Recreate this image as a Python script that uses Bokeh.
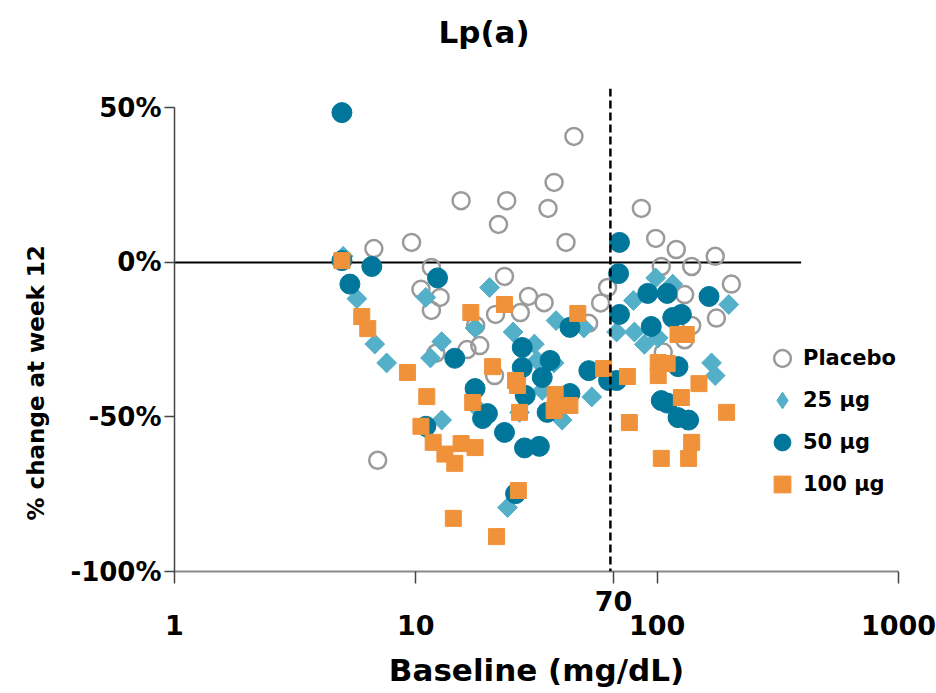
from bokeh.plotting import figure
from bokeh.models import Range1d, FixedTicker, Span, Title, Legend, LegendItem
from bokeh.embed import file_html
from bokeh.resources import INLINE

# ---------------- data ----------------
title_text = "Lp(a)"
x_label = "Baseline (mg/dL)"
y_label = "% change at week 12"
series_names = ["Placebo", "25 µg", "50 µg", "100 µg"]

x_ticks = [1, 10, 100, 1000]
x_tick_labels = ["1", "10", "100", "1000"]
y_ticks = [-100, -50, 0, 50]
y_tick_labels = ["-100%", "-50%", "0%", "50%"]
threshold_label = "70"
threshold_line_x = 64      # where the dashed line is drawn
threshold_label_x = 66     # where the "70" text sits
zero_line_end = 395

placebo_x = [6.95, 6.7, 9.6, 11.6, 10.5, 12.6, 11.6, 15.4, 12.1, 16.3, 18.4, 17.7, 21.4, 23.3, 22.0,
             23.8, 27.1, 29.3, 34.0, 35.3, 37.4, 41.9, 45.2, 21.2, 52.0, 58.3, 62.3, 86.0, 98.6, 104,
             120, 130, 139, 174, 203, 176, 139, 106, 130]
placebo_y = [-64, 4.5, 6.5, -1.6, -8.7, -11.3, -15.5, 20, -29.4, -28.2, -26.9, -20.4, -16.8, -4.5, 12.3,
             20, -16.2, -11, -13, 17.5, 25.9, 6.5, 40.8, -36.6, -19.7, -13.1, -8.1, 17.5, 7.8, -1.3,
             4.2, -10.4, -1.3, 2.0, -7, -18, -20.4, -29, -25]

d25_x = [5.0, 5.7, 6.76, 7.57, 11.5, 12.8, 11.0, 12.8, 10.9, 17.6, 20.2, 25.3, 31.0, 38.1, 49.7,
         37.4, 33.4, 26.9, 40.4, 53.6, 18.4, 24.0, 67.9, 79.7, 80.5, 88.5, 98.6, 116, 168, 174,
         198, 31.8, 101]
d25_y = [2, -11.7, -26.4, -32.5, -30.9, -25.6, -11.3, -51, -53.5, -21.2, -8.1, -22.5, -26.4, -18.8, -21.2,
         -32.5, -41.4, -48.5, -51, -43.5, -47.9, -79.3, -22.5, -12.3, -22.5, -26.5, -5, -7, -32.5, -36.6,
         -13.6, -31.7, -24.4]

d50_x = [4.94, 4.94, 6.57, 5.33, 12.3, 11.0, 14.5, 17.6, 18.9, 19.8, 23.3, 25.9, 27.6, 27.6, 28.2,
         28.4, 32.5, 33.4, 35.0, 36.0, 43.5, 43.5, 52.1, 62.9, 67.9, 69.8, 69.2, 69.8, 91.4, 94.5,
         110, 116, 126, 164, 104, 110, 122, 135, 122]
d50_y = [48.5, 0.6, -1.3, -7, -5, -53, -31, -40.8, -50.5, -48.9, -55, -74.8, -27.5, -34, -60,
         -43, -59.5, -37.2, -48.5, -31.7, -42.4, -21, -35, -38.2, -38.2, 6.5, -3.6, -16.8, -10, -20.7,
         -10, -17.8, -16.8, -11, -44.7, -45.5, -50.2, -51, -33.7]

d100_x = [4.94, 5.97, 6.32, 9.23, 11.1, 10.5, 11.8, 13.2, 14.5, 15.4, 17.6, 14.3, 17.2, 16.9, 23.3,
          46.9, 20.8, 25.9, 26.4, 26.9, 37.8, 43.5, 37.4, 60.0, 75.3, 101, 110, 101, 122, 132,
          149, 126, 194, 76.7, 139, 104, 135, 26.6, 21.6]
d100_y = [0.6, -17.5, -21.4, -35.6, -43.4, -53, -58.2, -62, -65, -58.6, -59.9, -82.8, -45.3, -16.2, -13.6,
          -16.5, -33.7, -38.2, -39.8, -48.5, -42.7, -46.3, -47.9, -34.3, -36.9, -32.4, -32.7, -36.6, -23.3, -23.3,
          -39.2, -43.7, -48.5, -51.8, -58.2, -63.4, -63.4, -73.8, -88.7]

# ---------------- style ----------------
FONT = "DejaVu Sans"
C_PLACEBO = "#9a9a9a"
C_25 = "#54AFC9"
C_50 = "#00779A"
C_100 = "#F0923A"

p = figure(width=936, height=693, x_axis_type="log",
           x_range=Range1d(1, 1000), y_range=Range1d(-100, 56.3),
           output_backend="svg", toolbar_location=None,
           min_border_left=174, min_border_right=38, min_border_top=88, min_border_bottom=122)
p.outline_line_color = None
p.xgrid.visible = False
p.ygrid.visible = False
p.background_fill_color = "white"
p.border_fill_color = "white"

# title (blank second line lifts it towards the top edge like the reference)
p.title.text = title_text + "\n"
p.title.text_font = FONT
p.title.text_font_style = "bold"
p.title.text_font_size = "31px"
p.title.text_color = "black"
p.title.align = "left"
p.title.offset = 264
p.title.standoff = 6

# reference lines
p.line([x_ticks[0], zero_line_end], [0, 0], line_color="black", line_width=2)
p.add_layout(Span(location=threshold_line_x, dimension="height", line_color="black",
                  line_width=2.5, line_dash="8 4"))

# series
r_pl = p.scatter(placebo_x, placebo_y, marker="circle", size=17, fill_color=None,
                 line_color=C_PLACEBO, line_width=2.5)
# diamond layer (sits fully underneath the rotated squares; provides the legend's diamond)
r_25_key = p.scatter(d25_x, d25_y, marker="diamond", size=19, fill_color=C_25, line_color=C_25)
p.scatter(d25_x, d25_y, marker="square", size=14, angle=45, angle_units="deg",
          fill_color=C_25, line_color=C_25)
r_50 = p.scatter(d50_x, d50_y, marker="circle", size=20, fill_color=C_50, line_color=C_50)
r_100 = p.scatter(d100_x, d100_y, marker="square", size=16, fill_color=C_100, line_color=C_100)

# x axis: main ticks on the second line, "70" on the first line
xa = p.xaxis[0]
xa.ticker = FixedTicker(ticks=x_ticks + [threshold_label_x], minor_ticks=[])
overrides = {t: "\n" + s for t, s in zip(x_ticks, x_tick_labels)}
overrides[threshold_label_x] = threshold_label + "\n"
xa.major_label_overrides = overrides
xa.axis_line_color = "#8a8a8a"
xa.axis_line_width = 2
xa.major_tick_line_color = "#444444"
xa.major_tick_line_width = 1.5
xa.major_tick_in = 0
xa.major_tick_out = 12
xa.minor_tick_line_color = None
xa.major_label_standoff = 2
xa.major_label_text_font = FONT
xa.major_label_text_font_style = "bold"
xa.major_label_text_font_size = "27px"
xa.major_label_text_line_height = 0.8
xa.major_label_text_color = "black"
xa.axis_label = x_label
xa.axis_label_text_font = FONT
xa.axis_label_text_font_style = "bold"
xa.axis_label_text_font_size = "31px"
xa.axis_label_text_color = "black"
xa.axis_label_standoff = 8

ya = p.yaxis[0]
ya.ticker = FixedTicker(ticks=y_ticks, minor_ticks=[])
ya.major_label_overrides = dict(zip(y_ticks, y_tick_labels))
ya.bounds = (y_ticks[0], y_ticks[-1])
ya.axis_line_color = "#444444"
ya.axis_line_width = 1.5
ya.major_tick_line_color = "#444444"
ya.major_tick_line_width = 1.5
ya.major_tick_in = 0
ya.major_tick_out = 10
ya.minor_tick_line_color = None
ya.major_label_standoff = 3
ya.major_label_text_font = FONT
ya.major_label_text_font_style = "bold"
ya.major_label_text_font_size = "26px"
ya.major_label_text_color = "black"

# y-axis title, positioned along the side like the reference
p.add_layout(Title(text=y_label, align="left", offset=51, standoff=37,
                   text_font=FONT, text_font_style="bold", text_font_size="23px",
                   text_color="black"), "left")

# legend
lg = Legend(items=[LegendItem(label=series_names[0], renderers=[r_pl]),
                   LegendItem(label=series_names[1], renderers=[r_25_key]),
                   LegendItem(label=series_names[2], renderers=[r_50]),
                   LegendItem(label=series_names[3], renderers=[r_100])])
lg.location = (587, 66)
lg.background_fill_alpha = 0
lg.border_line_color = None
lg.label_text_font = FONT
lg.label_text_font_style = "bold"
lg.label_text_font_size = "21px"
lg.label_text_color = "black"
lg.label_height = 30
lg.glyph_height = 42
lg.glyph_width = 42
lg.spacing = 0
lg.padding = 5
lg.margin = 0
lg.label_standoff = 0
p.add_layout(lg, "center")

open("out.html", "w").write(file_html(p, INLINE))
